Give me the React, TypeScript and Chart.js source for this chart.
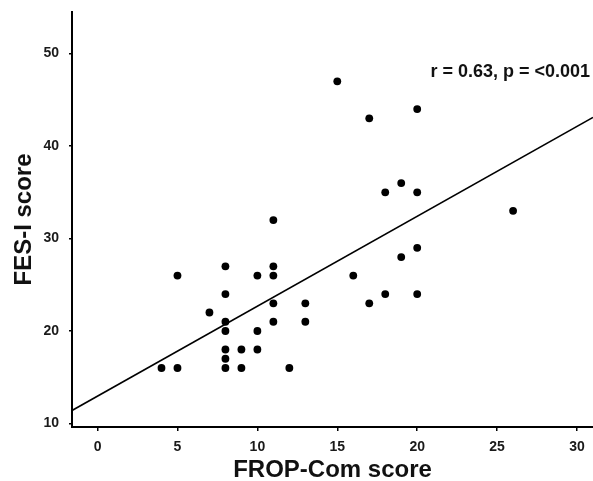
import React, { useEffect, useRef } from "react";
import { Chart, registerables } from "chart.js";

Chart.register(...registerables);

// FROP-Com score (x) and FES-I score (y) for each participant
const fropScores = [15, 17, 20, 18, 19, 20, 26, 11, 20, 19, 16, 17, 18, 20, 5, 8, 10, 11, 11, 8, 7, 8, 8, 10, 11, 11, 13, 13, 8, 9, 10, 8, 8, 9, 4, 5, 12];
const fesScores = [47, 43, 44, 35, 36, 35, 33, 32, 29, 28, 26, 23, 24, 24, 26, 27, 26, 27, 26, 24, 22, 21, 20, 20, 23, 21, 23, 21, 18, 18, 18, 17, 16, 16, 16, 16, 16];

// regression line end points
const fitX = [-1.6, 31];
const fitY = [11.4, 43.1];

const xTicks = [0, 5, 10, 15, 20, 25, 30];
const yTicks = [10, 20, 30, 40, 50];

const statText = "r = 0.63, p = <0.001";
const xTitle = "FROP-Com score";
const yTitle = "FES-I score";

const FONT = "'Liberation Sans', Arial, Helvetica, sans-serif";

export default function App() {
  const ref = useRef<HTMLCanvasElement | null>(null);

  useEffect(() => {
    document.body.style.margin = "0";
    const canvas = ref.current;
    if (!canvas) return;

    const statPlugin = {
      id: "statText",
      afterDatasetsDraw(chart: any) {
        const { ctx, chartArea } = chart;
        ctx.save();
        ctx.font = `bold 18px ${FONT}`;
        ctx.fillStyle = "#111";
        ctx.textAlign = "right";
        ctx.textBaseline = "middle";
        ctx.fillText(statText, chartArea.right - 3, chartArea.top + 60);
        ctx.restore();
      },
    };

    const chart = new Chart(canvas, {
      type: "scatter",
      data: {
        datasets: [
          {
            label: "fit",
            type: "line",
            data: fitX.map((x, i) => ({ x, y: fitY[i] })),
            borderColor: "#000",
            borderWidth: 1.6,
            pointRadius: 0,
            fill: false,
            tension: 0,
          } as any,
          {
            label: "participants",
            data: fropScores.map((x, i) => ({ x, y: fesScores[i] })),
            backgroundColor: "#000",
            borderColor: "#000",
            borderWidth: 0,
            pointRadius: 3.9,
            pointHoverRadius: 3.9,
          },
        ],
      },
      options: {
        animation: false,
        responsive: false,
        maintainAspectRatio: false,
        layout: { autoPadding: false, padding: { top: 12, right: 0, left: 0, bottom: 0 } },
        plugins: {
          legend: { display: false },
          tooltip: { enabled: false },
        },
        scales: {
          x: {
            type: "linear",
            min: -1.6,
            max: 31,
            afterBuildTicks: (s: any) => {
              s.ticks = xTicks.map((value) => ({ value }));
            },
            afterFit: (s: any) => {
              s.height = 54;
              s.paddingLeft = 0;
              s.paddingRight = 0;
            },
            grid: {
              drawOnChartArea: false,
              drawTicks: true,
              tickLength: 4,
              color: "#000",
              lineWidth: 1.5,
            },
            border: { color: "#000", width: 2 },
            ticks: {
              color: "#1a1a1a",
              padding: 8,
              font: { family: FONT, size: 14, weight: "bold" },
              maxRotation: 0,
            },
            title: {
              display: true,
              text: xTitle,
              color: "#111",
              font: { family: FONT, size: 24, weight: "bold", lineHeight: 0.87 },
              padding: { top: 0, bottom: 0 },
            },
          },
          y: {
            type: "linear",
            min: 9.62,
            max: 54.5,
            afterBuildTicks: (s: any) => {
              s.ticks = yTicks.map((value) => ({ value }));
            },
            afterFit: (s: any) => {
              s.width = 72;
              s.paddingTop = 0;
              s.paddingBottom = 0;
            },
            grid: {
              drawOnChartArea: false,
              drawTicks: true,
              tickLength: 3,
              color: "#000",
              lineWidth: 1.5,
            },
            border: { color: "#000", width: 2 },
            ticks: {
              color: "#1a1a1a",
              padding: 10,
              font: { family: FONT, size: 14, weight: "bold" },
            },
            title: {
              display: true,
              text: yTitle,
              color: "#111",
              font: { family: FONT, size: 24, weight: "bold", lineHeight: 0.87 },
              padding: { top: 14, bottom: 0 },
            },
          },
        },
      },
      plugins: [statPlugin],
    });

    return () => chart.destroy();
  }, []);

  return (
    <div style={{ width: 593, height: 481, background: "#fff" }}>
      <canvas ref={ref} width={593} height={481} style={{ display: "block" }} />
    </div>
  );
}
